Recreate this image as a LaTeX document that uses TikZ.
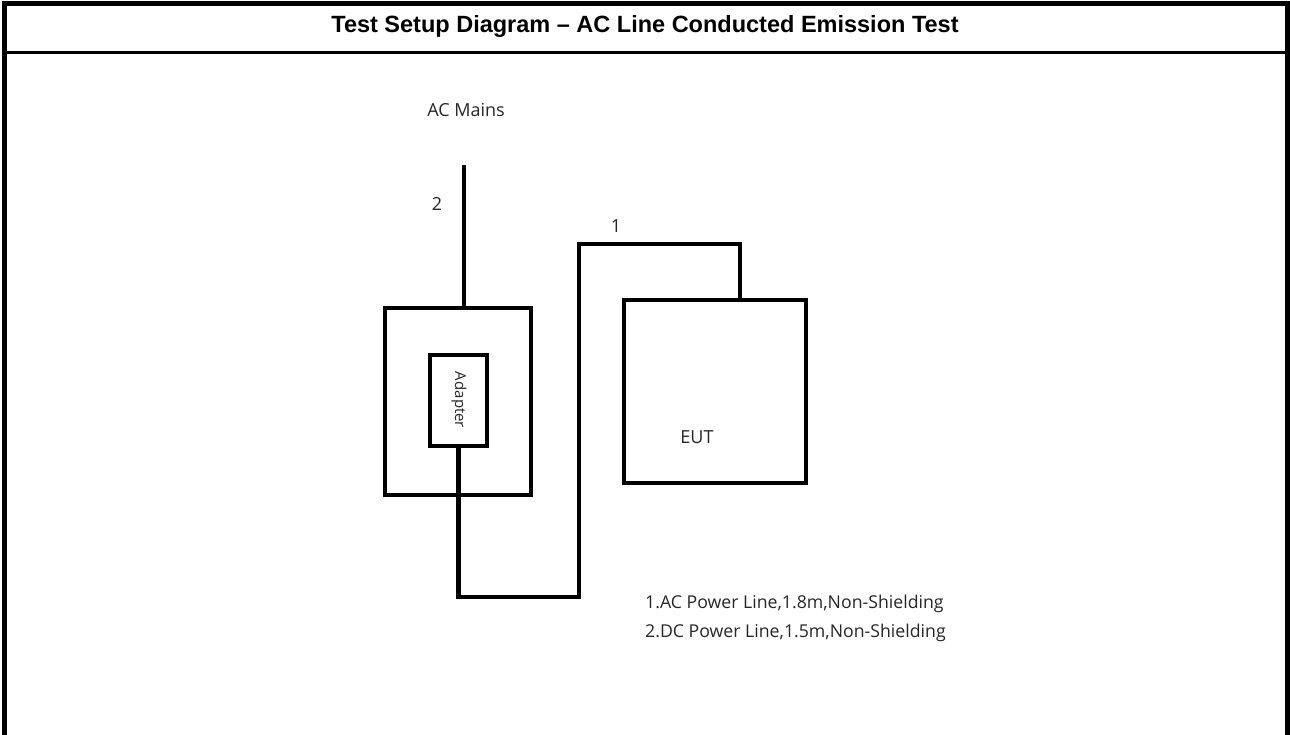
\documentclass[tikz,border=0pt]{standalone}
\usepackage{fontspec}
\setmainfont{Open Sans}
\newfontfamily\titlefont{Liberation Sans}
\begin{document}
\begin{tikzpicture}[x=1pt,y=-1pt,
  frameline/.style={line width=5pt},
  sepline/.style={line width=2.5pt},
  boxstyle/.style={draw, line width=4.5pt, inner sep=0pt},
  cable/.style={line width=4.5pt, line join=miter},
  lbl/.style={text=black!85, inner sep=0pt, font=\fontsize{18}{22}\selectfont},
  note/.style={text=black!85, inner sep=0pt, anchor=west, font=\fontsize{17.7}{22}\selectfont}]
\useasboundingbox (0,0) rectangle (1290,735);
% frame
\draw[frameline] (4.5,735) -- (4.5,4) -- (1287.5,4) -- (1287.5,735);
\draw[sepline] (4.5,52.5) -- (1287.5,52.5);
\node[inner sep=0pt, font=\titlefont\bfseries\fontsize{23.5}{28}\selectfont] (title) at (645,26) {Test Setup Diagram – AC Line Conducted Emission Test};
% boxes
\node[boxstyle, minimum width=146pt, minimum height=187pt] (outer) at (458,401.5) {};
\node[boxstyle, minimum width=57pt, minimum height=91pt] (inner) at (458.5,400.5) {};
\node[lbl, rotate=-90, font=\fontsize{15}{18}\selectfont] (adtext) at (459,400) {Adapter};
\node[boxstyle, minimum width=182pt, minimum height=183pt] (eut) at (715,391.5) {};
\node[lbl] (euttext) at (697,437) {EUT};
% labels
\node[lbl] (mains) at (466,110) {AC Mains};
\node[lbl] (n2) at (437,204) {2};
\node[lbl] (n1) at (616,226) {1};
\node[note] (note1) at (645,604) {1.AC Power Line,1.8m,Non-Shielding};
\node[note] (note2) at (645,633) {2.DC Power Line,1.5m,Non-Shielding};
% cables
\coordinate (mainsEnd) at (464,165);
\draw[cable] (mainsEnd) -- (mainsEnd |- outer.north);
\coordinate (c1a) at (579,597);
\coordinate (c1b) at (740,244);
\draw[cable] (inner.south) |- (c1a) |- (c1b) -- (c1b |- eut.north);
\end{tikzpicture}
\end{document}
